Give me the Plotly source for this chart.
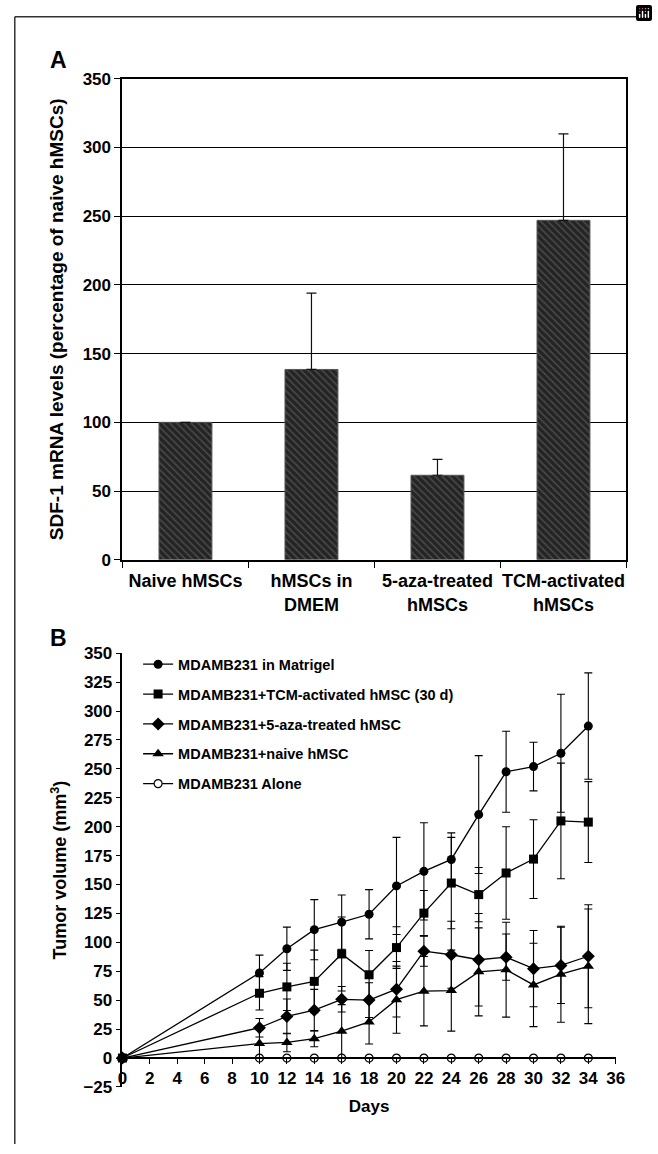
import plotly.graph_objects as go

# ---------------- Panel A data ----------------
categories = ["Naive hMSCs", "hMSCs in<br>DMEM", "5-aza-treated<br>hMSCs", "TCM-activated<br>hMSCs"]
sdf1_levels = [100, 138.5, 61.5, 247]
sdf1_err_up = [None, 55.5, 11.5, 63]

# ---------------- Panel B data ----------------
days = [0, 10, 12, 14, 16, 18, 20, 22, 24, 26, 28, 30, 32, 34]
matrigel = [0, 73.6, 94.5, 111, 117.5, 124.3, 148.8, 161.4, 171.7, 210.5, 247.5, 252, 263.5, 287]
matrigel_err = [0, 15.4, 18.7, 26, 23.5, 21.3, 42, 42, 23, 51, 35, 21, 51, 46]
tcm = [0, 56, 61.5, 66.3, 90, 72, 95.5, 125.3, 151.3, 141.3, 160, 172, 205, 204]
tcm_err = [0, 14.4, 20.4, 27, 32, 21, 18, 19.5, 39.5, 23.5, 40, 34, 50, 35]
aza = [0, 26.2, 36, 41.4, 50.8, 50.1, 59.5, 92.4, 89.3, 85, 87.2, 77.3, 80.1, 88]
aza_err = [0, 8, 15, 18, 11, 15, 24, 13, 29, 40, 20, 33, 33, 44.5]
naive = [0, 12.5, 13.5, 16.7, 23.2, 31.2, 50.5, 57.8, 58.3, 74.5, 76.4, 63.2, 72.5, 79.3]
naive_err = [0, 12, 8, 7, 23, 19, 29, 30, 35, 38, 41, 36, 41.5, 49.5]
alone = [0] * len(days)

day_ticks = list(range(0, 38, 2))
vol_ticks = list(range(-25, 351, 25))

W, H = 658, 1154
FONT = "Liberation Sans, Arial, sans-serif"


def px_x(p):
    return p / W


def px_y(p):
    return 1 - p / H


fig = go.Figure()

# Panel A bars
fig.add_trace(go.Bar(
    x=categories, y=sdf1_levels,
    xaxis="x", yaxis="y",
    marker=dict(
        color="#2b2b2b",
        line=dict(color="#555555", width=1),
        pattern=dict(shape="\\", fgcolor="#707070", bgcolor="#242424", size=5, solidity=0.3),
    ),
    error_y=dict(type="data", symmetric=False, array=sdf1_err_up,
                 arrayminus=[0, 0, 0, 0], color="#111111", thickness=1.2, width=5),
    showlegend=False,
))

series = [
    ("MDAMB231 in Matrigel", matrigel, matrigel_err, "circle", 9, 1),
    ("MDAMB231+<b>TCM</b>-activated hMSC (30 d)", tcm, tcm_err, "square", 9, 2),
    ("MDAMB231+5-aza-treated hMSC", aza, aza_err, "diamond", 10, 3),
    ("MDAMB231+naive hMSC", naive, naive_err, "triangle-up", 10, 4),
]

# Alone series (drawn first, under the others)
fig.add_trace(go.Scatter(
    x=days, y=alone, xaxis="x2", yaxis="y2",
    mode="lines+markers", name="MDAMB231 Alone",
    line=dict(color="black", width=1.3),
    marker=dict(symbol="circle", size=8, color="white", line=dict(color="black", width=1.2)),
    cliponaxis=False, legendrank=5, legendgroup="g5",
))

for name, vals, errs, sym, size, rank in series:
    fig.add_trace(go.Scatter(
        x=days, y=vals, xaxis="x2", yaxis="y2",
        mode="lines+markers", name=name,
        line=dict(color="black", width=1.3),
        marker=dict(symbol=sym, size=size, color="black"),
        error_y=dict(type="data", array=errs, color="black", thickness=1.1, width=4),
        cliponaxis=False, legendrank=rank, legendgroup="g%d" % rank,
    ))

tickfont = dict(family=FONT, size=17, color="black", weight="bold")
titlefont = dict(family=FONT, size=17, color="black", weight="bold")

ya_top, ya_bot = 71, 560
yb_top, yb_bot = 655, 1096
y0_pix = 1066.7

fig.update_layout(
    width=W, height=H, autosize=False,
    margin=dict(l=0, r=0, t=0, b=0),
    paper_bgcolor="white", plot_bgcolor="white",
    font=dict(family=FONT, color="black", weight="bold"),
    modebar=dict(bgcolor="rgba(0,0,0,0)", color="rgba(0,0,0,0)", activecolor="rgba(0,0,0,0)"),
    bargap=0.58,
    xaxis=dict(
        domain=[px_x(120), px_x(635)], anchor="y",
        type="category",
        showline=True, linecolor="black", linewidth=2, mirror=True,
        ticks="outside", ticklen=6, tickwidth=1.2, tickcolor="black",
        tickson="boundaries", showgrid=False,
        tickfont=dict(family=FONT, size=18, color="black", weight="bold"),
        tickangle=0,
        ticklabelstandoff=4,
    ),
    yaxis=dict(
        domain=[px_y(ya_bot), px_y(ya_top)], anchor="x",
        range=[0, 350], tickvals=list(range(0, 351, 50)),
        showline=True, linecolor="black", linewidth=2, mirror=True,
        ticks="outside", ticklen=6, tickwidth=1.2, tickcolor="black",
        showgrid=True, gridcolor="black", gridwidth=1,
        tickfont=tickfont,
        title=dict(text="SDF-1 mRNA levels (percentage of naive hMSCs)",
                   font=dict(family=FONT, size=19, color="black", weight="bold"), standoff=14),
        zeroline=False,
    ),
    xaxis2=dict(
        domain=[px_x(120), px_x(624)], anchor="free",
        position=px_y(y0_pix),
        range=[0, 36], tickvals=day_ticks,
        showline=True, linecolor="black", linewidth=1.5,
        ticks="outside", ticklen=5, tickwidth=1.2, tickcolor="black",
        showgrid=False, zeroline=False,
        tickfont=tickfont,
        title=dict(text="Days", font=titlefont, standoff=12),
    ),
    yaxis2=dict(
        domain=[px_y(yb_bot), px_y(yb_top)], anchor="x2",
        range=[-25, 350], tickvals=vol_ticks,
        showline=True, linecolor="black", linewidth=1.5,
        ticks="outside", ticklen=5, tickwidth=1.2, tickcolor="black",
        showgrid=False, zeroline=False,
        tickfont=tickfont,
        title=dict(text="Tumor volume (mm<sup>3</sup>)", font=dict(family=FONT, size=18, color="black", weight="bold"), standoff=12),
    ),
    legend=dict(
        x=px_x(136), y=px_y(650), xanchor="left", yanchor="top",
        bgcolor="rgba(0,0,0,0)",
        font=dict(family=FONT, size=14.5, color="black", weight="bold"),
        traceorder="grouped", tracegroupgap=8,
        itemwidth=30,
    ),
    shapes=[
        dict(type="line", xref="paper", yref="paper", x0=px_x(10), x1=1, y0=px_y(8), y1=px_y(8),
             line=dict(color="#333333", width=1.5)),
        dict(type="line", xref="paper", yref="paper", x0=px_x(10), x1=px_x(10), y0=px_y(8), y1=0,
             line=dict(color="#333333", width=1.5)),
    ],
    annotations=[
        dict(text="A", xref="paper", yref="paper", x=px_x(44), y=px_y(52), xanchor="left", yanchor="middle",
             showarrow=False, font=dict(family=FONT, size=23, color="black", weight="bold")),
        dict(text="B", xref="paper", yref="paper", x=px_x(44), y=px_y(640), xanchor="left", yanchor="middle",
             showarrow=False, font=dict(family=FONT, size=23, color="black", weight="bold")),
    ],
)

fig.write_html("out.html", post_script="document.body.style.margin='0';")
